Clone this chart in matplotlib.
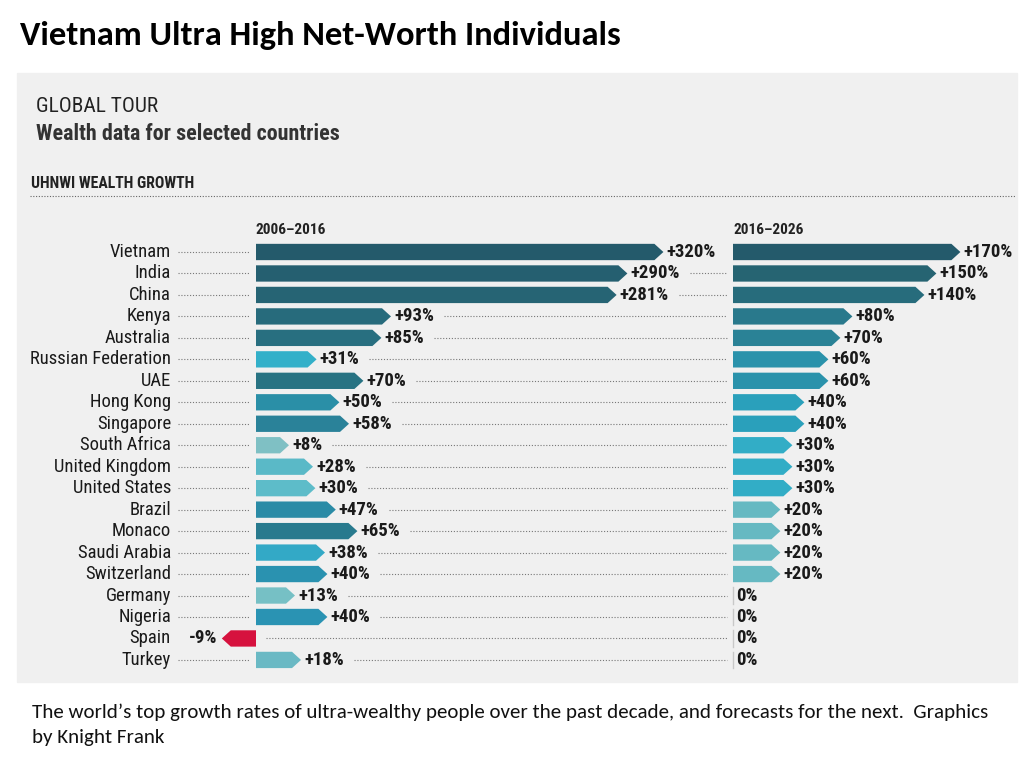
import matplotlib
matplotlib.use('Agg')
import matplotlib.pyplot as plt
from matplotlib.patches import Polygon, Rectangle
from matplotlib import font_manager

# data
countries = ['Vietnam', 'India', 'China', 'Kenya', 'Australia', 'Russian Federation', 'UAE',
             'Hong Kong', 'Singapore', 'South Africa', 'United Kingdom', 'United States',
             'Brazil', 'Monaco', 'Saudi Arabia', 'Switzerland', 'Germany', 'Nigeria',
             'Spain', 'Turkey']
growth_past = [320, 290, 281, 93, 85, 31, 70, 50, 58, 8, 28, 30, 47, 65, 38, 40, 13, 40, -9, 18]
growth_next = [170, 150, 140, 80, 70, 60, 60, 40, 40, 30, 30, 30, 20, 20, 20, 20, 0, 0, 0, 0]
colors_past = ['#245a6b', '#255f70', '#266474', '#276b7c', '#286f80', '#33b0c9', '#287383',
               '#2a8fa7', '#2a8299', '#7fc0c4', '#5ab9c7', '#5dbcc9', '#2a8ba6', '#287a8e',
               '#33a9c6', '#2a92b0', '#76c0c5', '#2a93b3', '#d6123e', '#6ab9c4']
colors_next = ['#245a6b', '#266472', '#276c7c', '#29798c', '#2a8296', '#2a92ab', '#2a92ab',
               '#2aa0bb', '#2aa0bb', '#32adc6', '#32adc6', '#32adc6', '#66b9c2', '#66b9c2',
               '#66b9c2', '#66b9c2', '#66b9c2', '#66b9c2', '#66b9c2', '#66b9c2']
period_labels = ['2006\u20132016', '2016\u20132026']

names = {f.name for f in font_manager.fontManager.ttflist}


def pick(*cands):
    for c in cands:
        if c in names:
            return c
    return 'DejaVu Sans'


narrow = pick('Liberation Sans Narrow', 'Roboto Condensed', 'Archivo Narrow', 'Barlow Semi Condensed')
body = pick('Carlito', 'Lato')
plt.rcParams['font.family'] = [narrow, 'DejaVu Sans']

W, H = 1024, 757
fig = plt.figure(figsize=(W / 100, H / 100), dpi=100)
fig.patch.set_facecolor('white')

# overlay in pixel coords
ov = fig.add_axes([0, 0, 1, 1])
ov.set_xlim(0, W)
ov.set_ylim(H, 0)
ov.axis('off')
ov.add_patch(Rectangle((17, 73), 1000, 609, color='#f0f0f0', zorder=0))

ov.text(20, 36, 'Vietnam Ultra High Net-Worth Individuals', fontsize=24.8, fontweight='bold',
        family=[body, 'DejaVu Sans'], va='center', color='black')
ov.text(32, 712, 'The world\u2019s top growth rates of ultra-wealthy people over the past decade, '
        'and forecasts for the next.  Graphics', fontsize=15.1, family=[body, 'DejaVu Sans'],
        va='center', color='#111111')
ov.text(32, 737, 'by Knight Frank', fontsize=15.1, family=[body, 'DejaVu Sans'], va='center',
        color='#111111')

ov.text(36, 107, 'GLOBAL TOUR', fontsize=15.4, va='center', color='#222222')
ov.text(36, 134, 'Wealth data for selected countries', fontsize=15.8, fontweight='bold',
        va='center', color='#333333')
ov.text(31, 183, 'UHNWI WEALTH GROWTH', fontsize=11.3, fontweight='bold', va='center',
        color='#222222')
ov.plot([30, 1015], [196, 196], color='#666666', lw=0.8, ls=(0, (1, 1.5)))

PX = 1.2          # pixels per percentage point
STUB = 12         # minimum bar length in %
TIP = 9 / PX      # arrow tip length in %
BH = 0.76
row0, dy = 252, 21.47
n = len(countries)


def bar_axes(zero_px, left_px, right_px):
    top = row0 - dy * 0.6
    bot = row0 + dy * (n - 1 + 0.6)
    ax = fig.add_axes([left_px / W, 1 - bot / H, (right_px - left_px) / W, (bot - top) / H])
    ax.set_xlim((left_px - zero_px) / PX, (right_px - zero_px) / PX)
    ax.set_ylim(n - 1 + 0.6, -0.6)
    ax.axis('off')
    ax.patch.set_alpha(0)
    return ax


def chevron(ax, i, v, color):
    s = 1 if v >= 0 else -1
    L = s * (abs(v) + STUB)
    t = s * TIP
    pts = [(0, i - BH / 2), (L, i - BH / 2), (L + t, i), (L, i + BH / 2), (0, i + BH / 2)]
    ax.add_patch(Polygon(pts, closed=True, color=color, lw=0))
    return L + t


axl = bar_axes(256, 180, 731)
axr = bar_axes(733, 731, 1016)

dot = dict(color='#777777', lw=0.8, ls=(0, (1, 1.6)))
lab = dict(fontsize=13.5, fontweight='bold', va='center', color='#1a1a1a')

fig.canvas.draw()
rend = fig.canvas.get_renderer()
inv = ov.transData.inverted()

for i, c in enumerate(countries):
    y = row0 + dy * i
    ov.text(171, y, c, fontsize=13.4, ha='right', va='center', color='#1a1a1a')
    v = growth_past[i]
    end = chevron(axl, i, v, colors_past[i])
    if v >= 0:
        ov.plot([178, 249], [y, y], **dot)
        t = axl.text(end + 3 / PX, i, '+%d%%' % v, ha='left', **lab)
    else:
        t = axl.text(end - 4 / PX, i, '%d%%' % v, ha='right', **lab)
    bb = t.get_window_extent(rend)
    xr = inv.transform((bb.x1, 0))[0] if v >= 0 else 256
    if 727 - xr > 12:
        ov.plot([xr + 10, 727], [y, y], **dot)

    w = growth_next[i]
    if w > 0:
        end = chevron(axr, i, w, colors_next[i])
        axr.text(end + 3 / PX, i, '+%d%%' % w, ha='left', **lab)
    else:
        axr.plot([0, 0], [i - BH / 2, i + BH / 2], color='#c8c8c8', lw=1)
        axr.text(3 / PX, i, '0%', ha='left', **lab)

ov.text(256, 230, period_labels[0], fontsize=11, fontweight='bold', va='center', color='#222222')
ov.text(733, 230, period_labels[1], fontsize=11, fontweight='bold', va='center', color='#222222')

fig.savefig('out.png', dpi=100, facecolor='white')
